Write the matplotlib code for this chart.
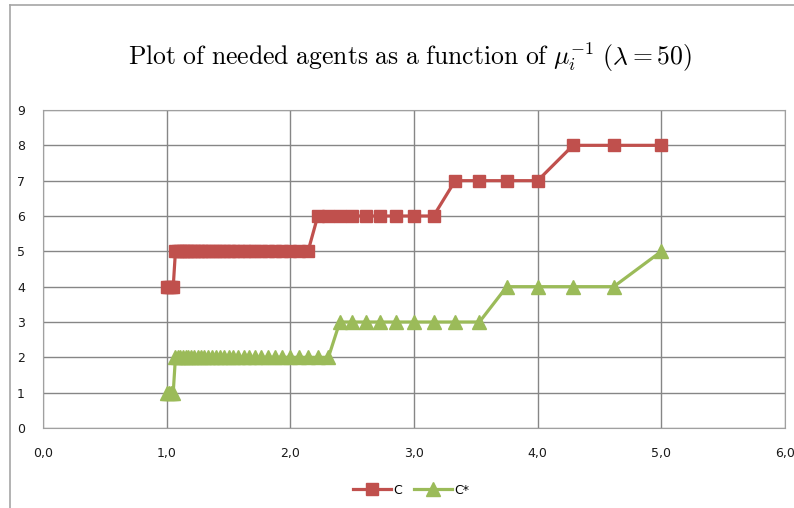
import matplotlib.pyplot as plt
from matplotlib.lines import Line2D
from matplotlib.ticker import FuncFormatter

plt.rcParams['mathtext.fontset'] = 'cm'

# mu_i^-1 values (ascending)
mu_inv = [1.000, 1.017, 1.034, 1.053, 1.071, 1.091, 1.111, 1.132, 1.154, 1.176,
          1.200, 1.224, 1.250, 1.277, 1.304, 1.333, 1.364, 1.395, 1.429, 1.463,
          1.500, 1.538, 1.579, 1.622, 1.667, 1.714, 1.765, 1.818, 1.875, 1.935,
          2.000, 2.069, 2.143, 2.222, 2.308, 2.400, 2.500, 2.609, 2.727, 2.857,
          3.000, 3.158, 3.333, 3.529, 3.750, 4.000, 4.286, 4.615, 5.000]

# needed agents
c_vals = [4, 4, 4, 4, 5, 5, 5, 5, 5, 5,
          5, 5, 5, 5, 5, 5, 5, 5, 5, 5,
          5, 5, 5, 5, 5, 5, 5, 5, 5, 5,
          5, 5, 5, 6, 6, 6, 6, 6, 6, 6,
          6, 6, 7, 7, 7, 7, 8, 8, 8]
cstar_vals = [1, 1, 1, 1, 2, 2, 2, 2, 2, 2,
              2, 2, 2, 2, 2, 2, 2, 2, 2, 2,
              2, 2, 2, 2, 2, 2, 2, 2, 2, 2,
              2, 2, 2, 2, 2, 3, 3, 3, 3, 3,
              3, 3, 3, 3, 4, 4, 4, 4, 5]

fig = plt.figure(figsize=(7.94, 5.08), dpi=100)
ax = fig.add_axes([43/794, 1-428/508, 742/794, 318/508])

ax.plot(mu_inv, c_vals, color='#C0504D', lw=2.3, marker='s', ms=9,
        mec='#C0504D', label='C', zorder=3)
ax.plot(mu_inv, cstar_vals, color='#9BBB59', lw=2.3, marker='^', ms=9.5,
        mec='#9BBB59', label='C*', zorder=3)

ax.set_xlim(0, 6)
ax.set_ylim(0, 9)
ax.set_xticks(range(0, 7))
ax.set_yticks(range(0, 10))
ax.xaxis.set_major_formatter(FuncFormatter(lambda v, p: f'{v:.1f}'.replace('.', ',')))
ax.grid(True, color='#868686', lw=1)
ax.set_axisbelow(True)
for s in ax.spines.values():
    s.set_color('#a0a0a0')
ax.tick_params(length=0, labelsize=9, colors='#1a1a1a')
ax.tick_params(axis='y', pad=13)
ax.tick_params(axis='x', pad=14)

fig.text(0.516, 1-57/508, r'$\mathrm{Plot\ of\ needed\ agents\ as\ a\ function\ of\ }\mu_i^{-1}\ (\lambda = 50)$',
         ha='center', va='center', fontsize=18.5)

fig.legend(loc='center', bbox_to_anchor=(0.518, 1-490/508), ncol=2, frameon=False,
           fontsize=9, handlelength=3.0, handletextpad=0.2, columnspacing=1.0)

# outer chart border (left and top visible)
fig.add_artist(Line2D([10/794, 10/794], [0, 1-5/508], color='#a6a6a6', lw=1.2))
fig.add_artist(Line2D([10/794, 1], [1-5/508, 1-5/508], color='#a6a6a6', lw=1.2))

fig.savefig('out.png', dpi=100)
